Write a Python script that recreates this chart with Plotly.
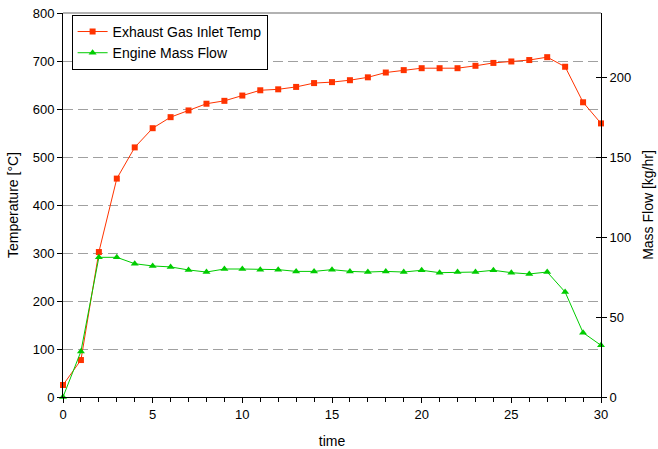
import plotly.graph_objects as go

time = list(range(0, 31))
exhaust_temp = [25, 77, 302, 455, 520, 560, 583, 597, 611, 617, 628, 639, 641, 646, 654, 656,
                660, 666, 676, 681, 685, 685, 685, 690, 696, 699, 702, 708, 688, 614, 570]
mass_flow = [0, 28.5, 87.3, 87.3, 83.3, 81.9, 81.3, 79.4, 78.1, 80.0, 80.0, 79.6, 79.6, 78.5, 78.5, 79.6,
             78.5, 78.1, 78.5, 78.1, 79.2, 77.7, 78.1, 78.1, 79.2, 77.7, 76.9, 78.1, 65.6, 40.2, 32.3]
temp_ticks = [0, 100, 200, 300, 400, 500, 600, 700, 800]
flow_ticks = [0, 50, 100, 150, 200]

red = "#FF3300"
green = "#00CC00"
font = "Liberation Sans, Arial, sans-serif"
fs = 13

fig = go.Figure()
fig.add_trace(go.Scatter(x=time, y=exhaust_temp, name="Exhaust Gas Inlet Temp",
                         mode="lines+markers", line=dict(color=red, width=1),
                         marker=dict(symbol="square", size=6, color=red),
                         cliponaxis=False))
fig.add_trace(go.Scatter(x=time, y=mass_flow, name="Engine Mass Flow", yaxis="y2",
                         mode="lines+markers", line=dict(color=green, width=1),
                         marker=dict(symbol="triangle-up", size=7, color=green),
                         cliponaxis=False))
fig.add_trace(go.Scatter(x=[None], y=[None], yaxis="y3", showlegend=False, hoverinfo="skip"))

fig.update_layout(
    width=658, height=449,
    margin=dict(l=63, r=57, t=13, b=52),
    paper_bgcolor="white", plot_bgcolor="white",
    font=dict(family=font, size=fs, color="black"),
    showlegend=True,
    legend=dict(x=0.016, y=0.995, xanchor="left", yanchor="top",
                bgcolor="white", bordercolor="black", borderwidth=1,
                font=dict(size=14), tracegroupgap=0, itemwidth=30),
    xaxis=dict(range=[0, 30], tick0=0, dtick=5, ticks="outside", ticklen=5,
               tickcolor="black", showline=True, linecolor="black", linewidth=1,
               showgrid=False, zeroline=False, automargin=False,
               tickfont=dict(size=fs),
               minor=dict(dtick=1, ticks="outside", ticklen=4, tickcolor="black"),
               title=dict(text="time", standoff=15, font=dict(size=14))),
    yaxis=dict(range=[0, 800], tickvals=temp_ticks, ticks="outside", ticklen=5, tickcolor="black",
               showline=True, linecolor="black", linewidth=1, mirror=False,
               showgrid=True, gridcolor="#A0A0A0", griddash="10px,5px", gridwidth=1,
               zeroline=False, automargin=False, tickfont=dict(size=fs),
               title=dict(text="Temperature [°C]", standoff=10, font=dict(size=14))),
    yaxis2=dict(range=[0, 240], tickvals=flow_ticks, overlaying="y", side="right",
                ticks="outside", ticklen=5, tickcolor="black", automargin=False,
                tickfont=dict(size=fs),
                showline=True, linecolor="black", linewidth=1, showgrid=False, zeroline=False,
                title=dict(text="Mass Flow [kg/hr]", standoff=12, font=dict(size=14))),
    yaxis3=dict(range=[0, 240], tickvals=flow_ticks, overlaying="y", side="right",
                ticks="inside", ticklen=5, tickcolor="black", showticklabels=False,
                showline=False, showgrid=False, zeroline=False, automargin=False),
)
fig.add_shape(type="line", xref="paper", yref="paper", x0=0, x1=1, y0=1, y1=1,
              line=dict(color="#999999", width=1.5))

fig.write_html("out.html", config={"displayModeBar": False},
               post_script="document.body.style.margin='0';document.body.style.padding='0';")
